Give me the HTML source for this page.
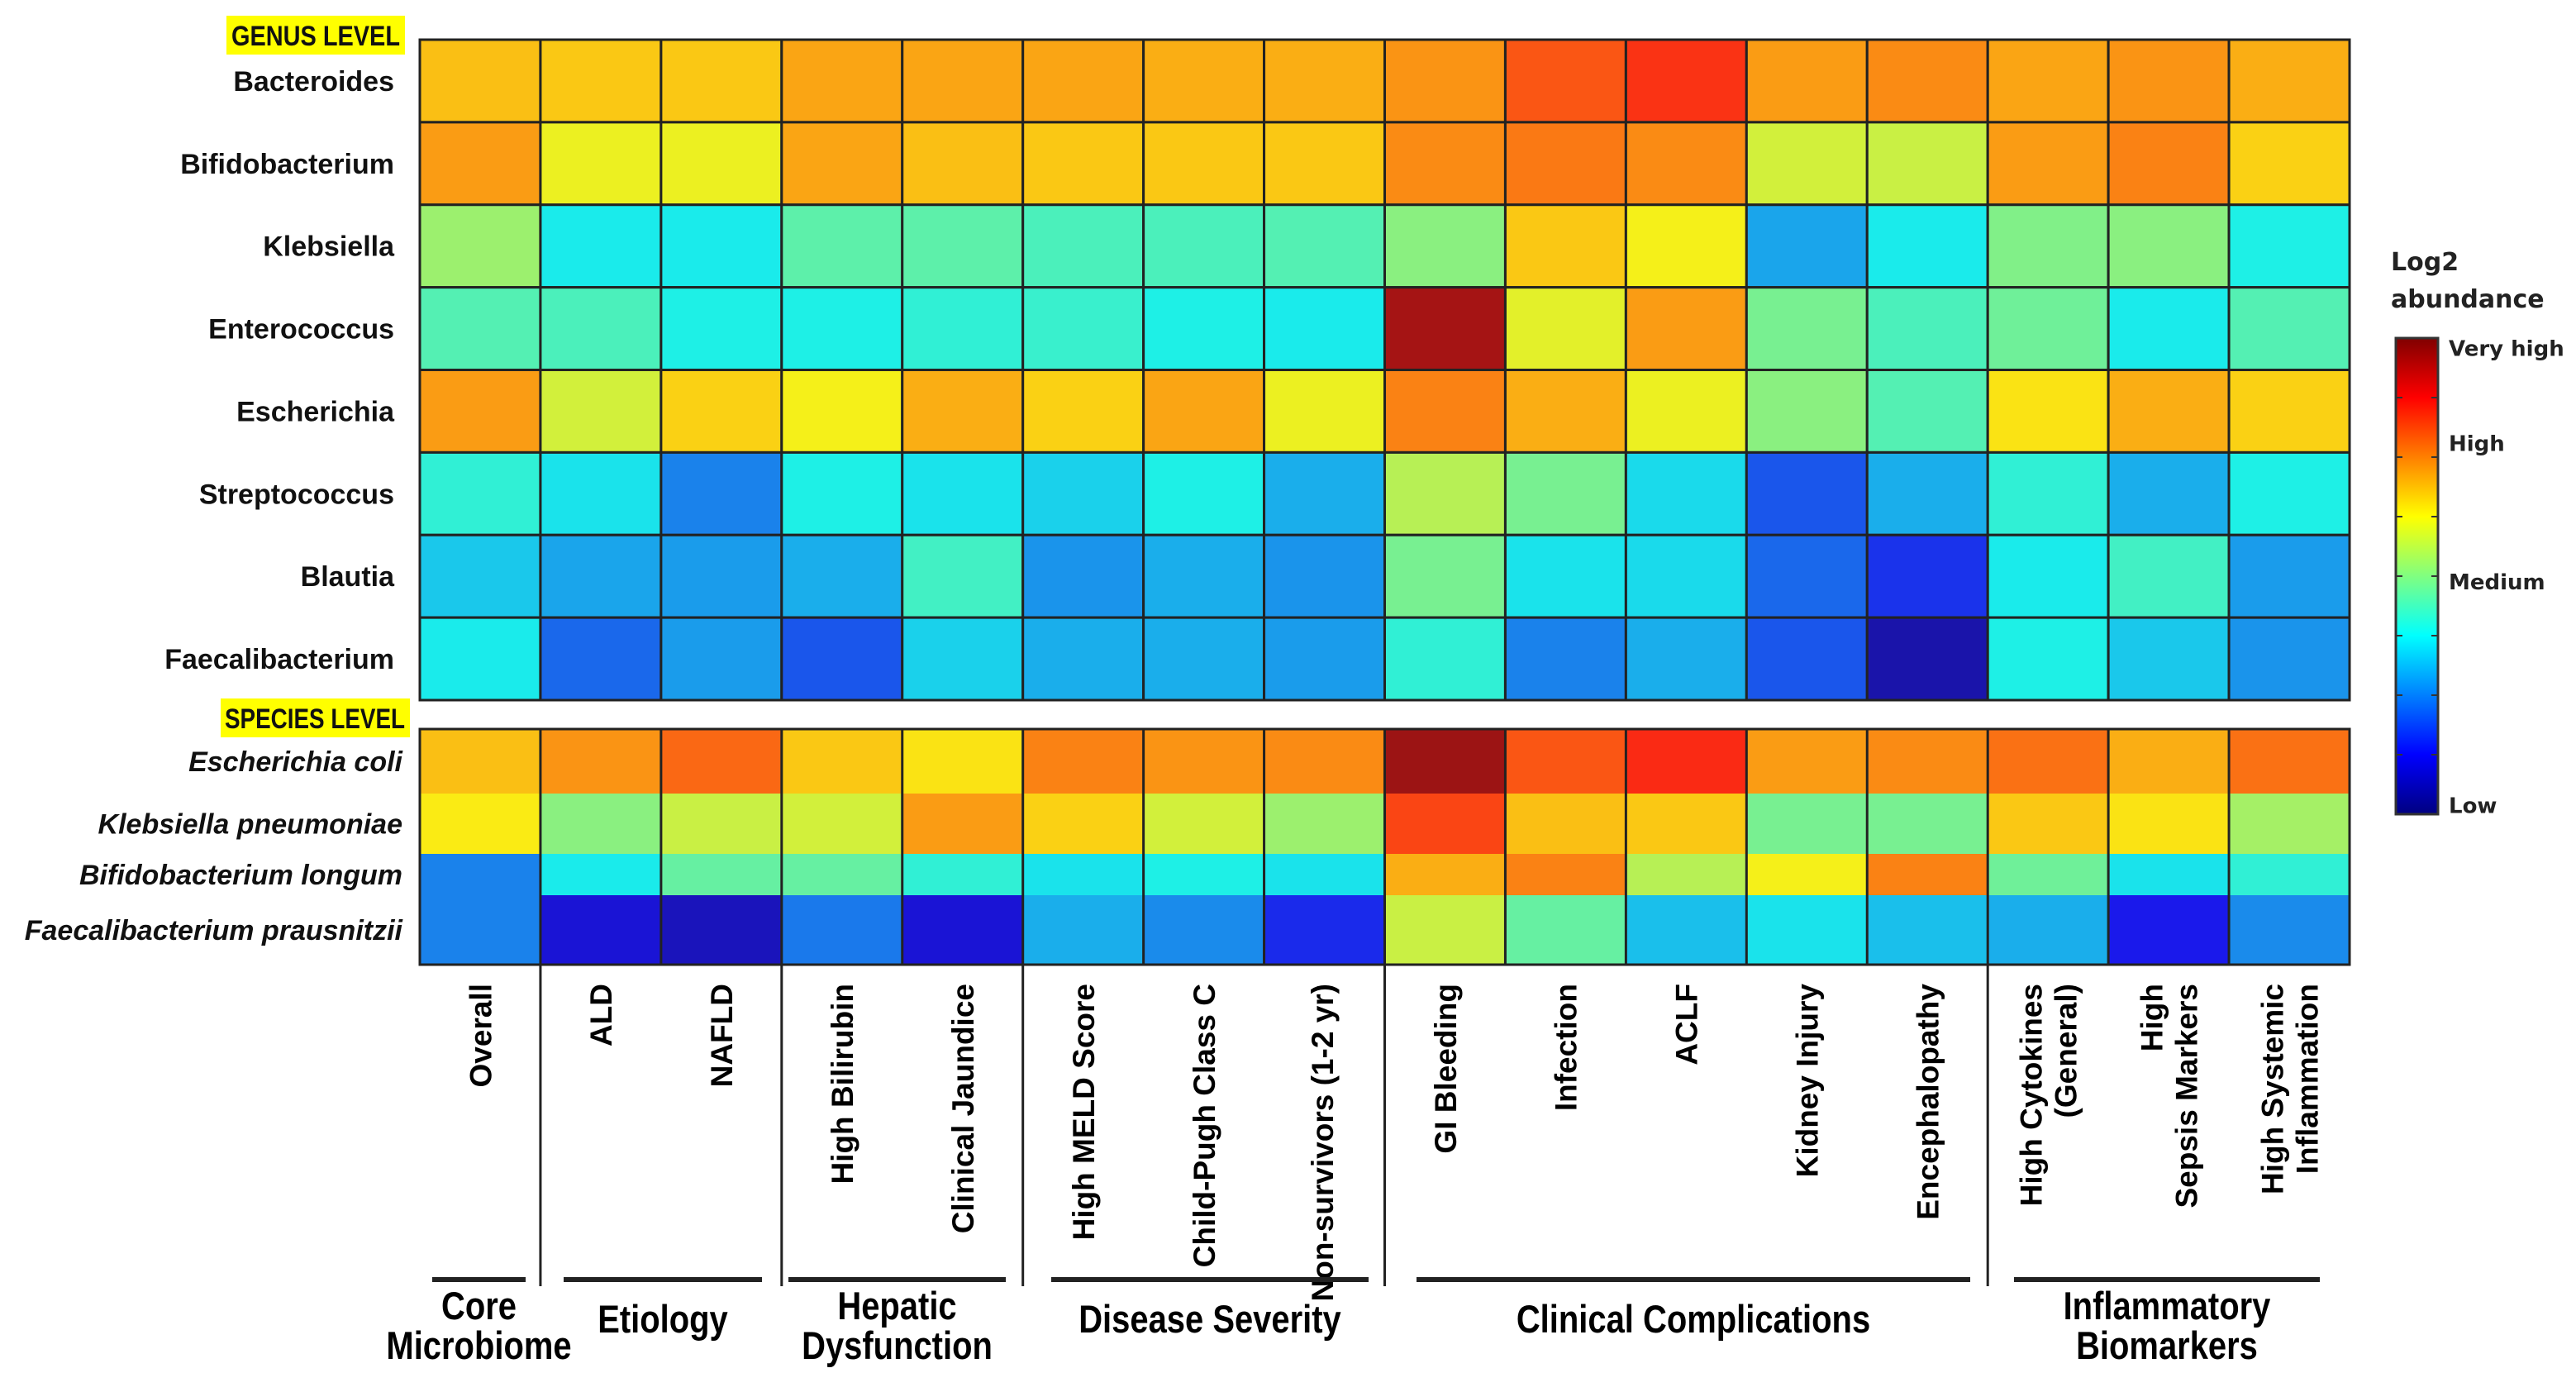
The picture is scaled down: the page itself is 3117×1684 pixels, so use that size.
<!DOCTYPE html>
<html><head><meta charset="utf-8">
<style>
html,body{margin:0;padding:0;background:#fff;}
svg{display:block;}
.rl{font-family:"Liberation Sans",sans-serif;font-weight:bold;font-size:34px;fill:#111;}
.cl{font-family:"Liberation Sans",sans-serif;font-weight:bold;font-size:37px;fill:#000;}
.gl{font-family:"Liberation Sans",sans-serif;font-weight:bold;font-size:47px;fill:#000;}
.lg{font-family:"DejaVu Sans",sans-serif;font-weight:bold;fill:#222;}
</style></head>
<body>
<svg id="chart" width="3117" height="1684" viewBox="0 0 3117 1684" xmlns="http://www.w3.org/2000/svg">
<defs>
<linearGradient id="jet" x1="0" y1="1" x2="0" y2="0">
<stop offset="0" stop-color="#000080"/><stop offset="0.125" stop-color="#0000ff"/>
<stop offset="0.375" stop-color="#00ffff"/><stop offset="0.5" stop-color="#80ff80"/>
<stop offset="0.625" stop-color="#ffff00"/><stop offset="0.875" stop-color="#ff0000"/>
<stop offset="1" stop-color="#800000"/>
</linearGradient>
</defs>
<g id="cells"></g>
<g id="labels"></g>
</svg>
<script>
const columns = ["Overall","ALD","NAFLD","High Bilirubin","Clinical Jaundice","High MELD Score","Child-Pugh Class C","Non-survivors (1-2 yr)","GI Bleeding","Infection","ACLF","Kidney Injury","Encephalopathy","High Cytokines|(General)","High|Sepsis Markers","High Systemic|Inflammation"];
const genusRows = ["Bacteroides","Bifidobacterium","Klebsiella","Enterococcus","Escherichia","Streptococcus","Blautia","Faecalibacterium"];
const speciesRows = ["Escherichia coli","Klebsiella pneumoniae","Bifidobacterium longum","Faecalibacterium prausnitzii"];
const genusValues = [
[0.68,0.67,0.67,0.71,0.71,0.71,0.70,0.70,0.73,0.80,0.84,0.72,0.74,0.71,0.73,0.70],
[0.72,0.61,0.61,0.71,0.68,0.67,0.67,0.67,0.74,0.76,0.74,0.58,0.57,0.72,0.75,0.66],
[0.52,0.37,0.37,0.45,0.45,0.43,0.43,0.44,0.50,0.67,0.62,0.29,0.37,0.49,0.50,0.38],
[0.44,0.43,0.38,0.38,0.40,0.41,0.38,0.37,0.97,0.60,0.72,0.48,0.43,0.47,0.37,0.44],
[0.72,0.58,0.66,0.62,0.70,0.66,0.71,0.61,0.75,0.70,0.61,0.50,0.44,0.64,0.70,0.66],
[0.40,0.36,0.25,0.38,0.36,0.34,0.38,0.30,0.55,0.48,0.35,0.20,0.30,0.40,0.30,0.38],
[0.33,0.29,0.28,0.30,0.42,0.27,0.30,0.27,0.48,0.36,0.35,0.22,0.16,0.37,0.42,0.28],
[0.37,0.22,0.28,0.20,0.34,0.30,0.30,0.28,0.40,0.25,0.30,0.20,0.05,0.38,0.33,0.27]];
const speciesValues = [
[0.68,0.73,0.78,0.67,0.64,0.75,0.73,0.74,0.98,0.80,0.85,0.72,0.74,0.77,0.70,0.77],
[0.63,0.50,0.57,0.58,0.72,0.66,0.58,0.52,0.82,0.68,0.67,0.48,0.48,0.67,0.64,0.53],
[0.25,0.37,0.46,0.46,0.40,0.36,0.38,0.36,0.70,0.75,0.55,0.62,0.75,0.47,0.36,0.40],
[0.25,0.10,0.07,0.24,0.10,0.30,0.26,0.15,0.57,0.46,0.32,0.36,0.32,0.30,0.13,0.26]];
const groupNames = ["Core|Microbiome","Etiology","Hepatic|Dysfunction","Disease Severity","Clinical Complications","Inflammatory|Biomarkers"];
const groupSizes = [1,2,2,3,5,3];
const legendLabels = ["Very high","High","Medium","Low"];
const legendLevels = [0.98,0.78,0.49,0.02];

const NS="http://www.w3.org/2000/svg";
const X0=508,X1=2843,GY0=48,GY1=847,SY0=882,SY1=1167;
const speciesHeights=[78,73,50,84];
const cw=(X1-X0)/columns.length;
const xOf=i=>X0+i*cw;
const gh=(GY1-GY0)/genusRows.length;
function jet(v){
  const c=t=>Math.max(0,Math.min(1,t));
  let r=c(1.5-Math.abs(4*v-3)), g=c(1.5-Math.abs(4*v-2)), b=c(1.5-Math.abs(4*v-1));
  r=0.1+0.88*r; g=0.08+0.86*g; b=0.08+0.84*b;
  return `rgb(${Math.round(r*255)},${Math.round(g*255)},${Math.round(b*255)})`;
}
function el(tag,attrs,parent,text){const e=document.createElementNS(NS,tag);for(const k in attrs)e.setAttribute(k,attrs[k]);if(text!==undefined)e.textContent=text;parent.appendChild(e);return e;}
const cells=document.getElementById('cells'), labels=document.getElementById('labels');

genusValues.forEach((row,r)=>row.forEach((v,c)=>{
  const e=el('rect',{x:xOf(c),y:GY0+r*gh,width:cw,height:gh,fill:jet(v),stroke:'#222','stroke-width':3},cells);
  
  
}));
let sy=SY0;
speciesValues.forEach((row,r)=>{
  row.forEach((v,c)=>{
    const e=el('rect',{x:xOf(c),y:sy,width:cw,height:speciesHeights[r],fill:jet(v)},cells);
    
    
  });
  sy+=speciesHeights[r];
});
for(let c=0;c<=columns.length;c++){
  el('line',{x1:xOf(c),y1:SY0,x2:xOf(c),y2:SY1,stroke:'#222','stroke-width':3},cells);
}
el('rect',{x:X0,y:SY0,width:X1-X0,height:SY1-SY0,fill:'none',stroke:'#222','stroke-width':3},cells);

el('rect',{x:274,y:19,width:216,height:47,fill:'#ffff00'},labels);
const gt=el('text',{x:280,y:55,class:'rl','font-size':32,textLength:204,lengthAdjust:'spacingAndGlyphs'},labels,'GENUS LEVEL');


el('rect',{x:267,y:845,width:229,height:47,fill:'#ffff00'},labels);
const st=el('text',{x:272,y:881,class:'rl','font-size':32,textLength:218,lengthAdjust:'spacingAndGlyphs'},labels,'SPECIES LEVEL');



genusRows.forEach((n,r)=>{
  const t=el('text',{x:477,y:GY0+r*gh+gh/2+12,'text-anchor':'end',class:'rl'},labels,n);
  
  
});
sy=SY0;
speciesRows.forEach((n,r)=>{
  const t=el('text',{x:487,y:sy+speciesHeights[r]/2+12,'text-anchor':'end',class:'rl','font-style':'italic'},labels,n);
  
  
  sy+=speciesHeights[r];
});

columns.forEach((n,c)=>{
  const lines=n.split('|');
  const cx=xOf(c)+cw/2;
  const fs=n.startsWith('Non-')?29:37;
  const lh=42;
  lines.forEach((ln,k)=>{
    const off=(k-(lines.length-1)/2)*lh+fs*0.36;
    const x=cx+off;
    const t=el('text',{x:x,y:1190,'text-anchor':'end',class:'cl','font-size':fs,transform:`rotate(-90 ${x} 1190)`},labels,ln);
    
    
  });
});

let ci=0;
const ulSpans=[[523,636],[682,922],[954,1217],[1272,1656],[1714,2384],[2437,2807]];
groupSizes.forEach((s,g)=>{
  ci+=s;
  if(g<groupSizes.length-1){
    el('line',{x1:xOf(ci),y1:SY1,x2:xOf(ci),y2:1556,stroke:'#222','stroke-width':3},labels);
  }
  const u=el('line',{x1:ulSpans[g][0],y1:1548,x2:ulSpans[g][1],y2:1548,stroke:'#222','stroke-width':6},labels);
  
  
  const cx=(ulSpans[g][0]+ulSpans[g][1])/2;
  const lines=groupNames[g].split('|');
  lines.forEach((ln,k)=>{
    const y=lines.length===1?1612:1596+k*48;
    const t=el('text',{x:cx/0.85,y:y,'text-anchor':'middle',class:'gl',transform:'scale(0.85 1)'},labels,ln);
    
    
  });
});

const lt=el('text',{x:2893,y:327,class:'lg','font-size':30},labels,'Log2');


el('text',{x:2893,y:372,class:'lg','font-size':30},labels,'abundance');
const cb=el('rect',{x:2899,y:409,width:51,height:576,fill:'url(#jet)',stroke:'#333','stroke-width':3},labels);


for(let i=1;i<8;i++){
  const y=409+576*i/8;
  el('line',{x1:2899,y1:y,x2:2907,y2:y,stroke:'#333','stroke-width':2},labels);
  el('line',{x1:2942,y1:y,x2:2950,y2:y,stroke:'#333','stroke-width':2},labels);
}
legendLabels.forEach((n,i)=>{
  const y=985-576*legendLevels[i]+10;
  const t=el('text',{x:2963,y:y,class:'lg','font-size':26},labels,n);
  
  
});
</script>
</body></html>
